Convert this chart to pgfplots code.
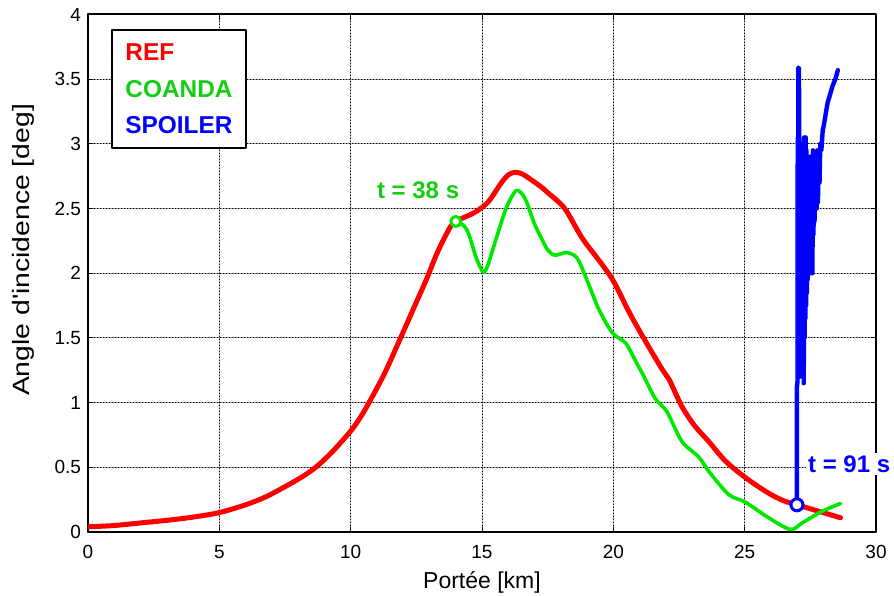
\documentclass[border=0pt]{standalone}
\usepackage{fontspec}
\setmainfont{Liberation Sans}
\usepackage{pgfplots}
\pgfplotsset{compat=1.18}
\definecolor{cred}{RGB}{255,0,0}
\definecolor{cgreen}{RGB}{0,232,0}
\definecolor{tgreen}{RGB}{20,205,20}
\definecolor{cblue}{RGB}{0,0,255}
\begin{document}
\begin{tikzpicture}
\begin{axis}[name=ax, scale only axis, width=394pt, height=258.75pt,
  xmin=0, xmax=30, ymin=0, ymax=4,
  clip mode=individual,
  xtick={0,5,10,15,20,25,30},
  ytick={0,0.5,1,1.5,2,2.5,3,3.5,4},
  yticklabels={0,0.5,1,1.5,2,2.5,3,3.5,4},
  grid=major,
  major grid style={black, line width=0.5pt, dash pattern=on 0.6pt off 0.9pt},
  axis line style={black, line width=1pt},
  tick style={black, line width=0.5pt}, major tick length=2.5pt, tick align=inside,
  ticklabel style={font=\fontsize{9.5}{11}\selectfont},
  /pgf/number format/assume math mode=true,
  xticklabel shift=3pt,
  xlabel={Portée [km]},
  xlabel style={font=\fontsize{11.5}{13}\selectfont, at={(axis description cs:0.5,0)}, anchor=base, yshift=-28.2pt},
  ylabel={\scalebox{1.2}[1]{Angle d\textquotesingle incidence [deg]}},
  ylabel style={font=\fontsize{11.8}{13}\selectfont, at={(axis description cs:-0.0673,0.545)}, anchor=south, inner sep=0pt},
  line join=round, line cap=round,
]
\addplot[cred, line width=2.5pt, no markers, smooth, tension=0.5] coordinates {
(0,0.04) (1,0.05) (2,0.07) (3,0.09) (4,0.115) (5,0.15) (6,0.21) (6.75,0.27) (7.5,0.35) (8.1,0.42) (8.67,0.50) (9.3,0.62) (10,0.78) (10.35,0.88) (10.7,1.0) (11.3,1.23) (11.9,1.5) (12.4,1.73) (12.9,1.96) (13.3,2.16) (13.77,2.35) (14.0,2.40) (14.3,2.43) (14.72,2.47) (15.23,2.55) (15.74,2.70) (16.0,2.76) (16.25,2.78) (16.5,2.77) (16.75,2.74) (17.3,2.66) (17.52,2.62) (18.15,2.50) (18.82,2.27) (19.6,2.06) (20.03,1.93) (20.6,1.70) (21.15,1.50) (21.85,1.26) (22.12,1.18) (22.61,0.97) (23.1,0.82) (23.63,0.70) (24.26,0.55) (25.03,0.42) (25.91,0.30) (26.5,0.24) (27.0,0.21) (27.82,0.16) (28.65,0.11)
};
\addplot[cgreen, line width=1.8pt, no markers, smooth, tension=0.5] coordinates {
(14.0,2.40) (14.3,2.37) (14.5,2.30) (14.78,2.12) (15.04,2.01) (15.2,2.05) (15.42,2.19) (15.86,2.47) (16.1,2.58) (16.31,2.64) (16.5,2.62) (16.7,2.55) (17.0,2.38) (17.29,2.26) (17.5,2.18) (17.77,2.14) (18.2,2.16) (18.5,2.14) (18.7,2.09) (19.07,1.91) (19.45,1.72) (19.96,1.54) (20.47,1.46) (20.85,1.32) (21.17,1.20) (21.6,1.03) (22.04,0.93) (22.61,0.70) (23.25,0.58) (23.63,0.47) (24.39,0.29) (25.03,0.23) (25.91,0.11) (26.74,0.02) (27.19,0.07) (27.95,0.16) (28.65,0.22)
};
\addplot[cblue, line width=2.2pt, no markers] coordinates {
(26.99,0.21) (26.99,1.12) (27.01,1.16) (27.02,3.05) (27.03,1.25) (27.045,3.59) (27.07,3.58) (27.075,1.3) (27.09,3.0) (27.10,1.2) (27.115,2.95) (27.13,1.35) (27.145,3.0) (27.16,1.25) (27.175,2.9) (27.19,1.4) (27.205,3.0) (27.22,1.3) (27.235,2.85) (27.25,1.15) (27.265,3.05) (27.28,1.5) (27.295,3.02) (27.31,1.65) (27.325,3.05) (27.34,1.75) (27.355,2.95) (27.37,1.85) (27.385,2.9) (27.40,1.95) (27.415,2.85) (27.43,2.0) (27.445,2.9) (27.46,2.05) (27.475,2.85) (27.49,2.0) (27.505,2.9) (27.52,2.1) (27.535,2.85) (27.55,2.0) (27.565,2.9) (27.58,2.0) (27.60,2.95) (27.62,2.3) (27.64,2.85) (27.66,2.4) (27.68,2.9) (27.70,2.5) (27.72,2.85) (27.74,2.5) (27.76,2.95) (27.79,2.55) (27.82,2.95) (27.85,2.7) (27.88,3.0) (27.92,2.95) (27.97,3.1) (28.02,3.15) (28.1,3.25) (28.16,3.32) (28.25,3.38) (28.35,3.45) (28.45,3.5) (28.55,3.57)
};
\addplot[only marks, mark=*, mark size=2.5pt, mark options={draw=cgreen, fill=white, line width=1.5pt}] coordinates {(14.0,2.40)};
\addplot[only marks, mark=*, mark size=3pt, mark options={draw=cblue, fill=white, line width=1.5pt}] coordinates {(26.99,0.21)};
\coordinate (t91) at (axis cs:27.4,0.46);
\node[anchor=base west, inner sep=0pt, text=tgreen, font=\fontsize{12}{14}\selectfont\bfseries] at (axis cs:10.99,2.58) {t = 38 s};
\draw[black, line width=1pt, fill=white] (rel axis cs:0.0308,0.7415) rectangle (rel axis cs:0.2001,0.970);
\node[anchor=base west, inner sep=0pt, text=cred, font=\fontsize{12.2}{14}\selectfont\bfseries] at (rel axis cs:0.047,0.9107) {REF};
\node[anchor=base west, inner sep=0pt, text=tgreen, font=\fontsize{12.2}{14}\selectfont\bfseries] at (rel axis cs:0.047,0.8400) {COANDA};
\node[anchor=base west, inner sep=0pt, text=cblue, font=\fontsize{12.2}{14}\selectfont\bfseries] at (rel axis cs:0.047,0.7704) {SPOILER};
\end{axis}
\node[anchor=base west, inner sep=1.2pt, xshift=-1.2pt, fill=white, text=cblue, font=\fontsize{12}{14}\selectfont\bfseries] at (t91) {t = 91 s};
\pgfresetboundingbox
\path[use as bounding box] ([xshift=-44pt,yshift=-32pt]ax.south west) rectangle ([xshift=9pt,yshift=7.25pt]ax.north east);
\end{tikzpicture}
\end{document}
